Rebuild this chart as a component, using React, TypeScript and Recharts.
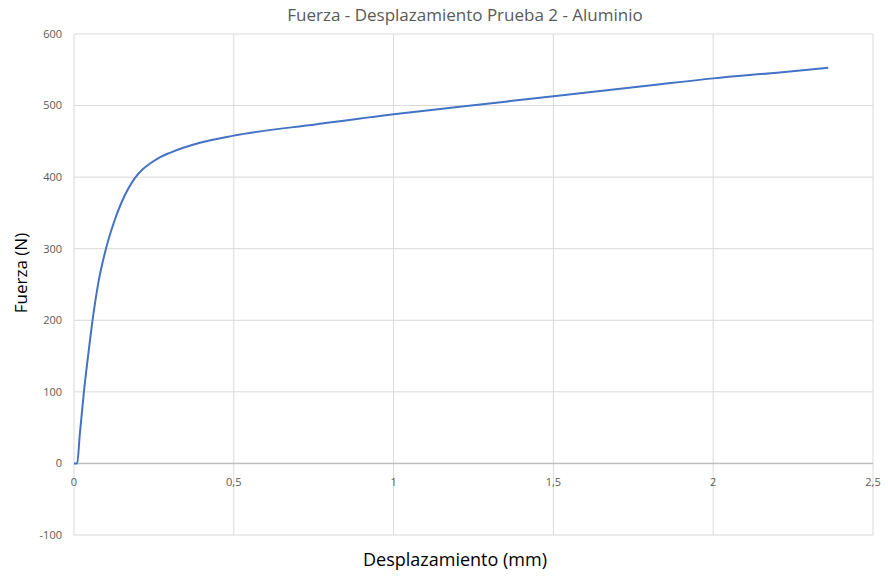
import { LineChart, Line, XAxis, YAxis, CartesianGrid, ReferenceLine } from 'recharts';

const desplazamiento = [
  0, 0.01, 0.018, 0.031, 0.044, 0.058, 0.076, 0.1, 0.125, 0.15, 0.17, 0.191, 0.215, 0.238,
  0.27, 0.3, 0.394, 0.5, 0.76, 1.0, 1.2, 1.5, 1.8, 2.0, 2.2, 2.36,
];
const fuerza = [
  0, 0, 40, 100, 150, 200, 252, 300, 337, 366, 384, 399, 411, 419,
  428, 434, 448, 458, 474, 488, 498, 513, 528, 538, 546, 553,
];
const xTicks = [0, 0.5, 1, 1.5, 2, 2.5];
const yTicks = [-100, 0, 100, 200, 300, 400, 500, 600];

const data = desplazamiento.map((d, i) => ({ d, f: fuerza[i] }));

const font = '"Open Sans", "Liberation Sans", sans-serif';
const labelColor = '#595959';

// x tick labels sit under the zero line, like Excel does
const XTick = (props: any) => {
  const { x, y, payload } = props;
  return (
    <text x={x} y={y - 57} textAnchor="middle" fill={labelColor} fontSize={11} fontFamily={font}>
      {String(payload.value).replace('.', ',')}
    </text>
  );
};

export default function App() {
  return (
    <div style={{ position: 'absolute', left: 0, top: 0, width: 888, height: 577, background: '#fff' }}>
      <div
        style={{
          position: 'absolute', left: 0, width: 930, top: 3, textAlign: 'center',
          fontFamily: font, fontSize: 17, color: labelColor,
        }}
      >
        Fuerza - Desplazamiento Prueba 2 - Aluminio
      </div>
      <LineChart width={888} height={577} data={data} margin={{ top: 34, right: 15, bottom: 0, left: 34 }}>
        <CartesianGrid stroke="#d9d9d9" />
        <XAxis
          dataKey="d"
          type="number"
          domain={[0, 2.5]}
          ticks={xTicks}
          axisLine={false}
          tickLine={false}
          tick={<XTick />}
          height={42}
        />
        <YAxis
          type="number"
          domain={[-100, 600]}
          ticks={yTicks}
          axisLine={false}
          tickLine={false}
          tickSize={0}
          tickMargin={12}
          width={40}
          tick={{ fill: labelColor, fontSize: 11, fontFamily: font }}
        />
        <ReferenceLine y={0} stroke="#bfbfbf" strokeWidth={1.5} />
        <Line
          type="monotone"
          dataKey="f"
          stroke="#4472C4"
          strokeWidth={2}
          dot={false}
          isAnimationActive={false}
        />
      </LineChart>
      <div
        style={{
          position: 'absolute', left: 0, width: 910, top: 547, textAlign: 'center',
          fontFamily: font, fontSize: 18, color: '#000',
        }}
      >
        Desplazamiento (mm)
      </div>
      <div
        style={{
          position: 'absolute', left: 20, top: 273, transform: 'translate(-50%, -50%) rotate(-90deg)',
          whiteSpace: 'nowrap', fontFamily: font, fontSize: 17, color: '#000',
        }}
      >
        Fuerza (N)
      </div>
    </div>
  );
}
